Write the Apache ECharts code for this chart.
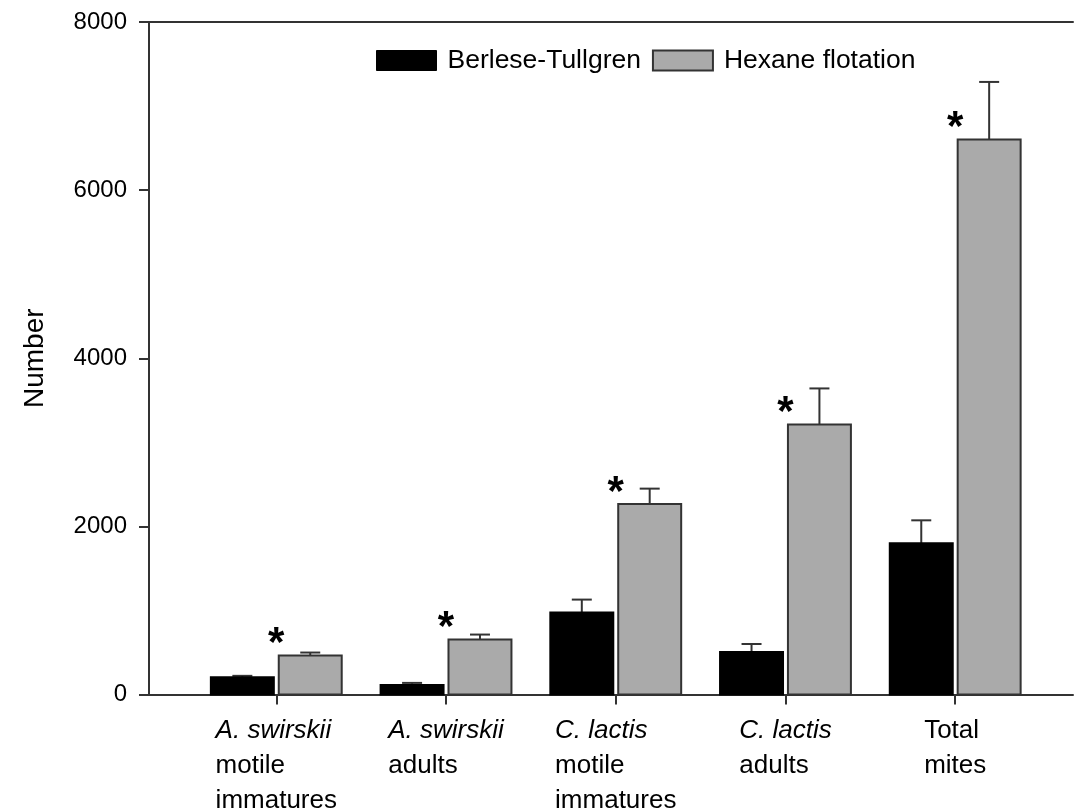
<!DOCTYPE html>
<html><head><meta charset="utf-8">
<script src="https://cdn.jsdelivr.net/npm/echarts@6/dist/echarts.min.js"></script>
<style>html,body{margin:0;padding:0;background:#fff}#c{width:1075px;height:810px}</style>
</head><body><div id="c"></div>
<script>
// ---- data ----
const categories = ['A. swirskii\nmotile\nimmatures', 'A. swirskii\nadults', 'C. lactis\nmotile\nimmatures', 'C. lactis\nadults', 'Total\nmites'];
const italicFirstLine = [true, true, true, true, false];
const seriesNames = ['Berlese-Tullgren', 'Hexane flotation'];
const berleseTullgren = [205, 114, 975, 506, 1799];
const berleseTullgrenErr = [17, 24, 154, 95, 273];
const hexaneFlotation = [464, 654, 2266, 3213, 6601];
const hexaneFlotationErr = [35, 59, 183, 428, 686];
const significant = [1, 1, 1, 1, 1];
const yMin = 0, yMax = 8000, yInterval = 2000;

const FONT = '"Liberation Sans", Arial, Helvetica, sans-serif';
const BW = 0.371;      // bar width in category units
const OFF = 0.2;       // bar offset from category centre
const AX = '#333';

function makeRender(offset, fill, stroke, withStar) {
  return function (params, api) {
    const i = api.value(0), v = api.value(1), e = api.value(2);
    const tl = api.coord([i + offset - BW / 2, v]);
    const br = api.coord([i + offset + BW / 2, 0]);
    const cx = api.coord([i + offset, v])[0];
    const capY = api.coord([i + offset, v + e])[1];
    const children = [
      { type: 'line', shape: { x1: cx, y1: tl[1], x2: cx, y2: capY }, style: { stroke: AX, lineWidth: 2 } },
      { type: 'line', shape: { x1: cx - 10, y1: capY, x2: cx + 10, y2: capY }, style: { stroke: AX, lineWidth: 2 } },
      { type: 'rect', shape: { x: tl[0], y: tl[1], width: br[0] - tl[0], height: br[1] - tl[1] }, style: { fill: fill, stroke: stroke, lineWidth: 2 } }
    ];
    if (withStar && api.value(3)) {
      const sc = api.coord([i, v]);
      children.push({ type: 'text', x: sc[0], y: sc[1] - 11,
        style: { text: '*', font: 'bold 42px ' + FONT, fill: '#000', align: 'center', verticalAlign: 'middle' } });
    }
    return { type: 'group', children: children };
  };
}

const chart = echarts.init(document.getElementById('c'), null, { renderer: 'canvas' });
const xTickVals = categories.map((c, i) => i);
chart.setOption({
  backgroundColor: '#fff',
  animation: false,
  grid: { left: 149, right: 2, top: 22, bottom: 115.5, containLabel: false, outerBoundsMode: 'none' },
  legend: {
    left: 371, top: 42, itemWidth: 60, itemHeight: 20, itemGap: 11,
    textStyle: { fontSize: 26.5, fontFamily: FONT, color: '#000', padding: [0, 0, 0, 6] },
    data: [
      { name: seriesNames[0], icon: 'rect', itemStyle: { color: '#000', borderColor: '#000', borderWidth: 1 } },
      { name: seriesNames[1], icon: 'rect', itemStyle: { color: '#aaaaaa', borderColor: '#333', borderWidth: 2 } }
    ]
  },
  xAxis: [{
    type: 'value', min: -0.75, max: 4.694,
    axisLine: { show: true, onZero: false, lineStyle: { color: AX, width: 2 } },
    axisTick: { show: true, customValues: xTickVals, length: 10, lineStyle: { color: AX, width: 2 } },
    splitLine: { show: false },
    axisLabel: {
      customValues: xTickVals, margin: 19, color: '#000',
      formatter: function (val) {
        const k = Math.round(val);
        const lines = categories[k].split('\n');
        return lines.map((l, j) => (j === 0 && italicFirstLine[k]) ? '{i|' + l + '}' : '{n|' + l + '}').join('\n');
      },
      rich: {
        i: { fontStyle: 'italic', fontSize: 26, lineHeight: 35, fontFamily: FONT, color: '#000', align: 'left' },
        n: { fontSize: 26, lineHeight: 35, fontFamily: FONT, color: '#000', align: 'left' }
      }
    }
  }, {
    type: 'value', position: 'top', min: -0.75, max: 4.694,
    axisLine: { show: true, onZero: false, lineStyle: { color: AX, width: 2 } },
    axisTick: { show: false }, axisLabel: { show: false }, splitLine: { show: false }
  }],
  yAxis: {
    type: 'value', min: yMin, max: yMax, interval: yInterval,
    name: 'Number', nameLocation: 'middle', nameGap: 100,
    nameTextStyle: { fontSize: 28, fontFamily: FONT, color: '#000' },
    axisLine: { show: true, onZero: false, lineStyle: { color: AX, width: 2 } },
    axisTick: { show: true, length: 10, lineStyle: { color: AX, width: 2 } },
    axisLabel: { fontSize: 24, fontFamily: FONT, color: '#000', margin: 22, formatter: v => String(v) },
    splitLine: { show: false }
  },
  series: [
    { name: seriesNames[0], type: 'custom', itemStyle: { color: '#000' },
      encode: { x: 0, y: 1 },
      renderItem: makeRender(-OFF, '#000', '#000', false),
      data: berleseTullgren.map((v, i) => [i, v, berleseTullgrenErr[i], 0]) },
    { name: seriesNames[1], type: 'custom', itemStyle: { color: '#aaaaaa' },
      encode: { x: 0, y: 1 },
      renderItem: makeRender(OFF, '#aaaaaa', '#333', true),
      data: hexaneFlotation.map((v, i) => [i, v, hexaneFlotationErr[i], significant[i]]) }
  ]
});
</script></body></html>
